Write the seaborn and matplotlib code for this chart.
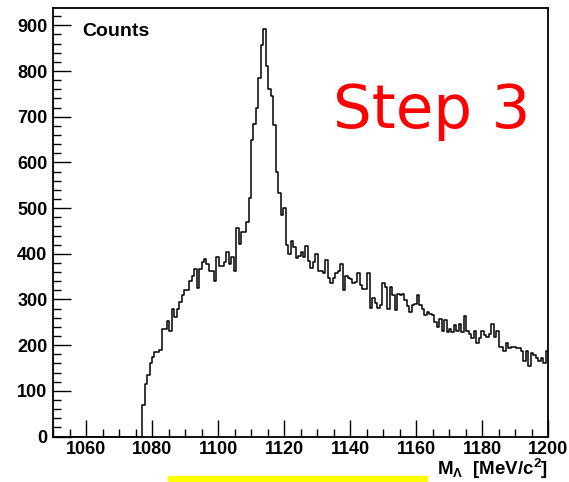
import numpy as np
import pandas as pd
import matplotlib
matplotlib.use("Agg")
import matplotlib.pyplot as plt
from matplotlib.patches import Rectangle
import seaborn as sns

# ---- data ----
bin_width = 0.75          # MeV/c^2
hist_range = (1050.0, 1200.0)
first_filled_edge = 1077.0
counts = [
    70, 114, 134, 160, 174, 186, 186, 190, 236, 236, 252, 232, 280, 262, 280, 294,
    309, 320, 320, 340, 352, 367, 325, 367, 381,
    389, 378, 363, 363, 341, 392, 374, 374, 381, 403, 378, 394, 363, 457, 422, 447, 447, 469,
    523, 648, 685, 720, 784, 856, 893, 812, 760, 745,
    681, 578, 534, 486, 501, 420, 400, 427, 414, 390, 396, 403, 394, 418, 385, 370, 381, 400,
    363, 363, 357, 387, 346, 335, 346, 359, 363, 378, 320, 352, 346, 344, 335, 338, 357, 331,
    324, 324, 359, 282,
    304, 293, 282, 287, 335, 327, 280, 327, 309, 276, 313, 309, 313, 298, 285, 272, 287, 290,
    309, 287, 280, 265, 272, 269, 265, 250, 239, 258, 232, 254, 228, 235, 228,
    245, 232, 247, 228, 263, 232, 225, 215, 232, 204, 215, 232, 222, 217, 225, 247, 217, 232,
    196, 196, 188, 204, 193, 196, 196, 193, 193, 188, 166, 188, 155, 182, 178, 171, 166, 171,
    162, 188,
]
x_ticks = [1060, 1080, 1100, 1120, 1140, 1160, 1180, 1200]
y_ticks = [0, 100, 200, 300, 400, 500, 600, 700, 800, 900]

centers = first_filled_edge + bin_width * (np.arange(len(counts)) + 0.5)
df = pd.DataFrame({"mass": centers, "counts": counts})

sns.set_style("ticks")
plt.rcParams["font.family"] = ["Liberation Sans", "DejaVu Sans"]
plt.rcParams["text.color"] = "black"
plt.rcParams["xtick.color"] = "black"
plt.rcParams["ytick.color"] = "black"
plt.rcParams["mathtext.fontset"] = "custom"
plt.rcParams["mathtext.rm"] = "Liberation Sans:bold"
plt.rcParams["mathtext.it"] = "Liberation Sans:bold"
plt.rcParams["mathtext.bf"] = "Liberation Sans:bold"

fig = plt.figure(figsize=(5.69, 4.82), dpi=100)
ax = fig.add_axes([53 / 569, 1 - 437 / 482, (548 - 53) / 569, (437 - 8) / 482])

sns.histplot(data=df, x="mass", weights="counts", binwidth=bin_width,
             binrange=hist_range, element="step",
             fill=False, color="black", linewidth=1.1, ax=ax)

ax.set_xlim(*hist_range)
ax.set_ylim(-1, 938)
ax.set_xticks(x_ticks)
ax.set_yticks(y_ticks)
ax.set_xticks(np.arange(1050, 1201, 5), minor=True)
ax.set_yticks(np.arange(0, 921, 20), minor=True)
ax.tick_params(axis="both", which="both", direction="in", width=1.0, colors="black",
               labelcolor="black", labelsize=13, top=False, right=False)
ax.tick_params(axis="x", which="major", length=12, pad=3)
ax.tick_params(axis="x", which="minor", length=6)
ax.tick_params(axis="y", which="major", length=13, pad=4)
ax.tick_params(axis="y", which="minor", length=6)
for lab in ax.get_xticklabels() + ax.get_yticklabels():
    lab.set_fontweight("bold")
    lab.set_color("black")
for s in ax.spines.values():
    s.set_visible(True)
    s.set_linewidth(1.3)
    s.set_color("black")
ax.set_xlabel("")
ax.set_ylabel("")

fig.text(82 / 569, 1 - 36 / 482, "Counts", fontsize=14, fontweight="bold",
         color="black", ha="left", va="baseline")
fig.text(333 / 569, 1 - 128 / 482, "Step 3", fontsize=44, color="#ff0000",
         family="DejaVu Sans", ha="left", va="baseline")
fig.text(548 / 569, 1 - 475 / 482, r"M$_{\Lambda}$  [MeV/c$^{2}$]", fontsize=13.5,
         fontweight="bold", color="black", ha="right", va="baseline")
fig.patches.append(Rectangle((168 / 569, 0), (427 - 168) / 569, 6 / 482,
                             transform=fig.transFigure, color="#ffff00", zorder=0))

fig.savefig("out.png", dpi=100)
